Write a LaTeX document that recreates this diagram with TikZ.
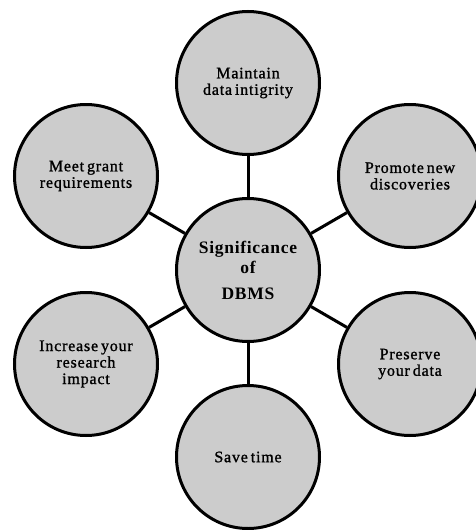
\documentclass[tikz,border=0pt]{standalone}
\usepackage{fontspec}
\setmainfont{Liberation Serif}
\newfontfamily\outerfont[LetterSpace=5,FakeBold=1.2,WordSpace=0.6]{Liberation Serif}
\newfontfamily\centerfont[LetterSpace=4]{Liberation Serif}
\definecolor{bubblegray}{HTML}{CCCCCC}
\begin{document}
\begin{tikzpicture}[x=1pt,y=-1pt,
  bubble/.style={circle, draw=black, line width=3pt, fill=bubblegray,
    minimum size=143pt, inner sep=0pt, align=center,
    font=\outerfont\fontsize{16}{16.5}\selectfont},
  hub/.style={bubble, font=\centerfont\bfseries\fontsize{17.5}{20}\selectfont},
  link/.style={line width=3pt}]
\useasboundingbox (0,0) rectangle (476,530);
\node[hub] (c) at (248,270) {Significance\\of\\[6pt]DBMS};
\node[bubble] (t) at (248,83) {Maintain\\data intigrity};
\node[bubble] (ur) at (410,176) {Promote new\\discoveries};
\node[bubble] (lr) at (410,364) {Preserve\\your data};
\node[bubble] (b) at (248,457) {Save time};
\node[bubble] (ll) at (86,364) {Increase your\\research\\impact};
\node[bubble] (ul) at (86,176) {Meet grant\\requirements};
\foreach \n in {t,ur,lr,b,ll,ul}{\draw[link] (c) -- (\n);}
\end{tikzpicture}
\end{document}
